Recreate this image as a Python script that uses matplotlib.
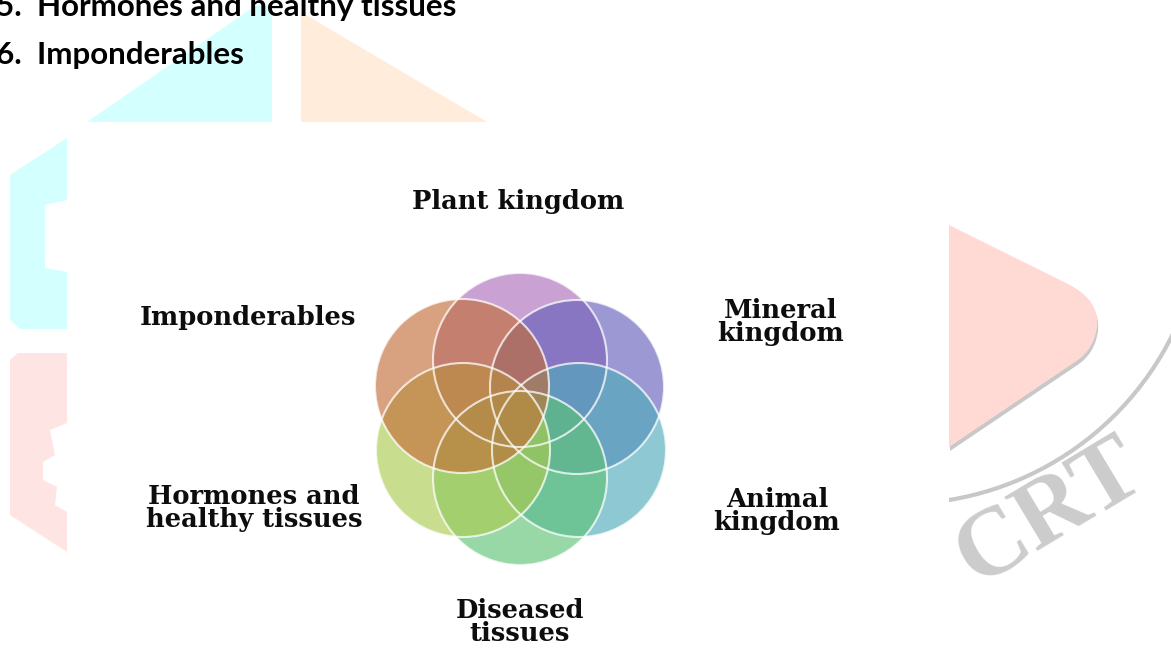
import matplotlib.pyplot as plt
import numpy as np
from matplotlib.patches import Circle, Polygon, Rectangle, PathPatch, Arc
from matplotlib.path import Path

# diagram data
labels = ["Plant kingdom", "Mineral\nkingdom", "Animal\nkingdom",
          "Diseased\ntissues", "Hormones and\nhealthy tissues", "Imponderables"]
colors = ["#ab6dba", "#655eba", "#4eabba", "#5ec275", "#abca4e", "#c26d37"]
# position of each circle around the flower (dx, dy) in px
offsets = [(0, -59), (57, -32), (59, 31), (0, 59), (-57, 31), (-58, -33)]
# label anchors (px)
label_pos = [(518, 202), (781, 322), (777, 511), (520, 622), (254, 508), (248, 318)]

top_lines = ["5.  Hormones and healthy tissues", "6.  Imponderables"]

W, H = 1171, 651
fig = plt.figure(figsize=(W / 100, H / 100), dpi=100)
ax = fig.add_axes([0, 0, 1, 1])
ax.set_xlim(0, W)
ax.set_ylim(H, 0)
ax.axis('off')

# ---- watermark pieces behind the pasted diagram ----
ax.add_patch(Polygon([(87, 122), (255, 6), (272, 6), (272, 122)], closed=True,
                     fc="#d4ffff", ec="none", zorder=0))
ax.add_patch(Polygon([(301, 12), (301, 122), (487, 122)], closed=True,
                     fc="#ffecda", ec="none", zorder=0))
# left cyan / pink blocks
ax.add_patch(Polygon([(10, 175), (67, 138), (67, 200), (45, 205), (45, 268), (67, 272),
                      (67, 329), (20, 329), (10, 320)], closed=True,
                     fc="#d4ffff", ec="none", zorder=0))
ax.add_patch(Polygon([(18, 353), (67, 353), (67, 423), (50, 430), (55, 455), (43, 462),
                      (43, 480), (57, 487), (55, 505), (67, 512), (67, 552), (10, 515),
                      (10, 360)], closed=True, fc="#ffe4e4", ec="none", zorder=0))
# right pink arrow with grey shadow
verts = [(949, 225), (1068, 284), (1100, 300), (1097, 327), (1094, 350), (1075, 362),
         (949, 447), (949, 225)]
codes = [Path.MOVETO, Path.LINETO, Path.CURVE3, Path.CURVE3, Path.CURVE3, Path.CURVE3,
         Path.LINETO, Path.CLOSEPOLY]
shadow = [(x + 1, y + 4) for x, y in verts]
ax.add_patch(PathPatch(Path(shadow, codes), fc="#c8c8c8", ec="none", zorder=0))
ax.add_patch(PathPatch(Path(verts, codes), fc="#ffdad5", ec="none", zorder=0.5))
ax.add_patch(Arc((900, 200), 608, 608, theta1=15, theta2=85, color="#c8c8c8", lw=3, zorder=0))
ax.text(1050, 514, "CRT", fontsize=70, fontweight='bold', family="Liberation Serif",
        color="#cccccc", rotation=31, ha='center', va='center', zorder=0)

# pasted diagram background
ax.add_patch(Rectangle((67, 122), 949 - 67, H - 122, fc="white", ec="none", zorder=1))

# ---- flower of six circles ----
cx, cy, r = 520, 419, 87
for i in range(len(labels)):
    dx, dy = offsets[i]
    ax.add_patch(Circle((cx + dx, cy + dy), r, fc=colors[i], alpha=0.64, ec="none", zorder=2))
for i in range(len(labels)):
    dx, dy = offsets[i]
    ax.add_patch(Circle((cx + dx, cy + dy), r, fc="none", ec="white", lw=1.5, alpha=0.75, zorder=3))

for lab, (x, y) in zip(labels, label_pos):
    ax.text(x, y, lab, ha='center', va='center', fontsize=18.5, fontweight='bold',
            family="DejaVu Serif", color="#0d0d0d", linespacing=0.9, zorder=4)

# text of the page above the figure
ax.text(-4, 16, top_lines[0], ha='left', va='baseline', fontsize=22.6, fontweight='bold',
        family="Lato", color="black", zorder=4)
ax.text(-4, 64, top_lines[1], ha='left', va='baseline', fontsize=22.6, fontweight='bold',
        family="Lato", color="black", zorder=4)

fig.savefig("out.png", dpi=100, facecolor="white")
